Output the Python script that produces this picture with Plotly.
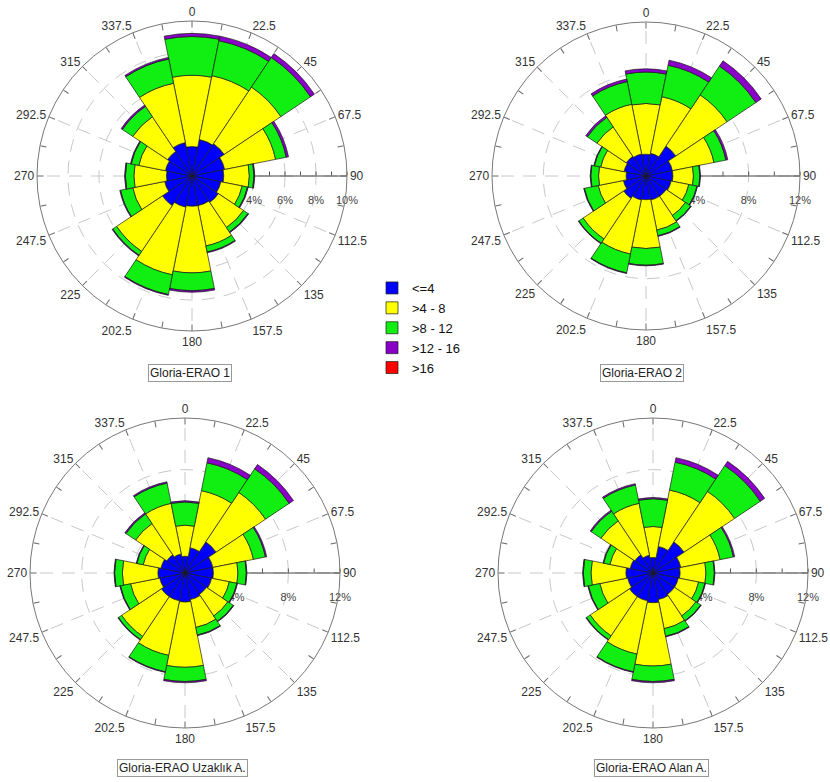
import plotly.graph_objects as go

directions = [0, 22.5, 45, 67.5, 90, 112.5, 135, 157.5, 180, 202.5, 225, 247.5, 270, 292.5, 315, 337.5]
dir_labels = ["0", "22.5", "45", "67.5", "90", "112.5", "135", "157.5",
              "180", "202.5", "225", "247.5", "270", "292.5", "315", "337.5"]
bin_names = ["<=4", ">4 - 8", ">8 - 12", ">12 - 16", ">16"]
bin_colors = ["#0000ff", "#ffff00", "#11ee11", "#8a00c8", "#ff0000"]
titles = ["Gloria-ERAO 1", "Gloria-ERAO 2", "Gloria-ERAO Uzaklık A.", "Gloria-ERAO Alan A."]

# frequency (%) per speed bin, per direction
erao1_le4 = [1.9, 2.4, 2.5, 2.15, 2.05, 1.9, 2.05, 1.95, 1.95, 2.05, 2.3, 1.8, 1.65, 1.75, 1.9, 2.2]
erao1_4_8 = [4.6, 4.2, 4.4, 3.35, 1.65, 1.4, 1.95, 2.65, 4.3, 4.45, 3.55, 2.1, 2.1, 1.75, 2.7, 3.9]
erao1_8_12 = [2.5, 2.3, 2.3, 0.7, 0.3, 0.35, 0.35, 0.4, 1.15, 1.3, 0.3, 0.8, 0.55, 0.5, 0.8, 1.6]
erao1_12_16 = [0.2, 0.3, 0.3, 0.15, 0.05, 0.05, 0.05, 0.05, 0.1, 0.05, 0.05, 0.05, 0.05, 0.05, 0.1, 0.1]
erao1_gt16 = [0] * 16

erao2_le4 = [1.7, 1.8, 2.8, 2.1, 2.1, 2.0, 1.9, 1.9, 1.85, 1.9, 2.1, 1.8, 1.55, 1.75, 1.85, 1.75]
erao2_4_8 = [3.95, 4.5, 4.8, 3.3, 1.6, 1.4, 1.8, 2.4, 3.8, 4.3, 3.8, 2.0, 2.15, 1.85, 2.75, 3.95]
erao2_8_12 = [2.45, 2.5, 2.7, 0.95, 0.5, 0.65, 0.5, 0.45, 1.3, 1.5, 0.4, 1.1, 0.6, 0.5, 0.9, 1.8]
erao2_12_16 = [0.25, 0.4, 0.5, 0.15, 0.05, 0.05, 0.05, 0.05, 0.05, 0.05, 0.05, 0.05, 0.05, 0.05, 0.15, 0.2]
erao2_gt16 = [0] * 16

uzak_le4 = [1.3, 2.0, 2.9, 2.2, 2.2, 2.1, 2.0, 2.1, 2.25, 2.2, 2.2, 2.0, 2.1, 1.9, 1.7, 1.5]
uzak_4_8 = [2.4, 4.5, 4.6, 3.2, 1.9, 1.4, 2.0, 2.2, 5.05, 4.3, 3.7, 2.3, 2.75, 1.4, 2.9, 4.0]
uzak_8_12 = [1.8, 2.2, 2.2, 0.95, 0.65, 0.6, 0.5, 0.6, 1.1, 1.3, 0.3, 0.8, 0.6, 0.5, 0.9, 1.6]
uzak_12_16 = [0.1, 0.4, 0.4, 0.1, 0.05, 0.05, 0.05, 0.05, 0.1, 0.05, 0.05, 0.05, 0.05, 0.05, 0.1, 0.1]
uzak_gt16 = [0] * 16

alan_le4 = [1.2, 2.1, 2.9, 2.2, 2.1, 2.0, 2.0, 2.1, 2.3, 2.2, 2.2, 2.0, 2.1, 1.8, 1.7, 1.4]
alan_4_8 = [2.4, 4.45, 4.7, 3.1, 2.0, 1.6, 2.0, 2.3, 4.9, 4.2, 3.65, 2.2, 2.7, 1.6, 3.15, 4.1]
alan_8_12 = [2.15, 2.2, 2.4, 1.05, 0.65, 0.5, 0.45, 0.6, 1.2, 1.4, 0.35, 0.9, 0.6, 0.5, 0.9, 1.45]
alan_12_16 = [0.1, 0.35, 0.4, 0.1, 0.05, 0.05, 0.05, 0.05, 0.1, 0.05, 0.05, 0.05, 0.05, 0.05, 0.1, 0.1]
alan_gt16 = [0] * 16

charts = [
    [erao1_le4, erao1_4_8, erao1_8_12, erao1_12_16, erao1_gt16],
    [erao2_le4, erao2_4_8, erao2_8_12, erao2_12_16, erao2_gt16],
    [uzak_le4, uzak_4_8, uzak_8_12, uzak_12_16, uzak_gt16],
    [alan_le4, alan_4_8, alan_8_12, alan_12_16, alan_gt16],
]
radial_max = [10, 12, 12, 12]
radial_step = [1, 2, 2, 2]
radial_label_step = [2, 4, 4, 4]

W, H = 830, 782
# (cx, cy, radius) in pixels
geoms = [(192, 176, 155), (646, 176, 154), (185, 573, 155), (653, 573, 155)]
title_pos = [(190, 373), (642, 373), (182, 768), (651, 768)]

FONT = "Liberation Sans, Arial, sans-serif"

fig = go.Figure()

def dom(cx, cy, r):
    return dict(x=[(cx - r) / W, (cx + r) / W], y=[1 - (cy + r) / H, 1 - (cy - r) / H])

layout = {}
# grid (underneath) subplots
for i in range(4):
    name = "polar" if i == 0 else f"polar{i + 1}"
    cx, cy, r = geoms[i]
    rmax = radial_max[i]
    gv = [v for v in range(radial_label_step[i], rmax, radial_label_step[i])]
    fig.add_trace(go.Scatterpolar(r=[0], theta=[0], mode="markers", marker=dict(opacity=0),
                                  showlegend=False, hoverinfo="skip", subplot=name))
    layout[name] = dict(
        domain=dom(cx, cy, r), bgcolor="white",
        radialaxis=dict(range=[0, rmax], tickvals=gv, showticklabels=False, ticks="",
                        showline=False, showgrid=True, gridcolor="#c8c8c8", griddash="13px,9px",
                        gridwidth=1),
        angularaxis=dict(rotation=90, direction="clockwise", tickvals=directions,
                         showticklabels=False, ticks="", showline=False, showgrid=True,
                         gridcolor="#c8c8c8", griddash="13px,9px", gridwidth=1),
    )

# main subplots
for i in range(4):
    name = f"polar{i + 5}"
    cx, cy, r = geoms[i]
    rmax = radial_max[i]
    for b in range(5):
        fig.add_trace(go.Barpolar(
            r=charts[i][b], theta=directions, width=[22.5] * 16,
            name=bin_names[b], marker=dict(color=bin_colors[b], line=dict(color="#1a1a1a", width=0.7)),
            showlegend=(i == 0), subplot=name,
        ))
    rt = list(range(0, rmax + 1, radial_step[i]))[1:]
    rtt = [f"<br>{v}%" if v % radial_label_step[i] == 0 else "" for v in rt]
    at = [k * 11.25 for k in range(32)]
    att = [dir_labels[k // 2] if k % 2 == 0 else "" for k in range(32)]
    layout[name] = dict(
        domain=dom(cx, cy, r), bgcolor="rgba(0,0,0,0)", barmode="stack", bargap=0,
        radialaxis=dict(range=[0, rmax], angle=0, tickvals=rt, ticktext=rtt, ticks="inside",
                        ticklen=4, tickcolor="#555", showline=True, linecolor="#444", linewidth=1,
                        showgrid=False, layer="below traces", side="clockwise",
                        tickfont=dict(size=11, color="#444", family=FONT)),
        angularaxis=dict(rotation=90, direction="clockwise", tickvals=at, ticktext=att,
                         ticks="inside", ticklen=6, tickcolor="#666", showline=True,
                         linecolor="#777", linewidth=1, showgrid=False,
                         tickfont=dict(size=12, color="#333", family=FONT)),
    )

annotations = []
for i in range(4):
    x, y = title_pos[i]
    annotations.append(dict(
        text=titles[i], x=x / W, y=1 - y / H, xref="paper", yref="paper", showarrow=False,
        font=dict(size=12, color="#222", family=FONT), bordercolor="#999", borderwidth=1,
        borderpad=1, bgcolor="white", xanchor="center", yanchor="middle"))

fig.update_layout(
    width=W, height=H, margin=dict(l=0, r=0, t=0, b=0),
    paper_bgcolor="white", plot_bgcolor="white",
    font=dict(family=FONT, size=12, color="#222"),
    legend=dict(x=372 / W, y=1 - 273 / H, xanchor="left", yanchor="top",
                font=dict(size=13, color="#111", family=FONT), bgcolor="rgba(0,0,0,0)",
                tracegroupgap=0),
    annotations=annotations,
    **layout,
)

fig.write_html("out.html", config={"displayModeBar": False},
               post_script="document.body.style.margin='0px';document.body.style.overflow='hidden';")
